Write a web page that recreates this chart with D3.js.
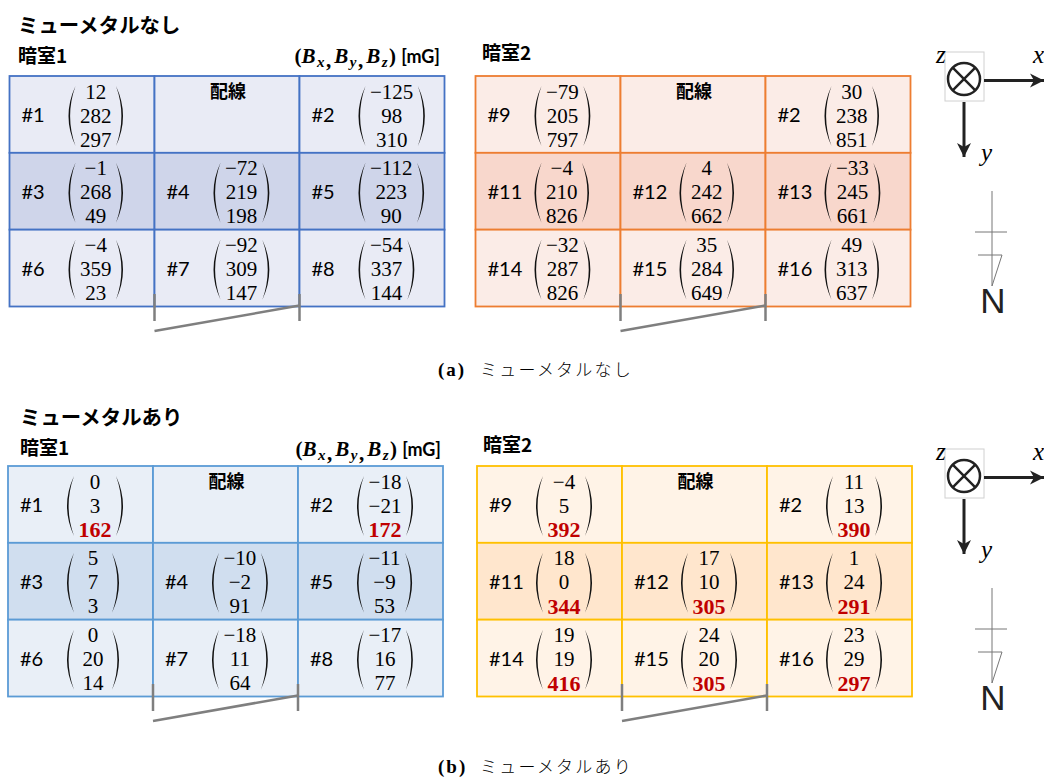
<!DOCTYPE html>
<html>
<head>
<meta charset="utf-8">
<script src="https://cdn.jsdelivr.net/npm/d3@7"></script>
<style>
body { margin: 0; background: #fff; }
svg { display: block; }
text { fill: #000; }
.jp { font-family: "Noto Sans CJK JP"; font-weight: 700; }
.id { font-family: Lato, "Noto Sans"; font-size: 20px; }
.num { font-family: "Liberation Serif"; font-size: 21px; text-anchor: middle; dominant-baseline: central; }
.math { font-family: "Liberation Serif"; font-style: italic; }
</style>
</head>
<body>
<script>
// cell order: left to right, top to bottom, null is the wiring cell
let room1Ids = ['#1', null, '#2', '#3', '#4', '#5', '#6', '#7', '#8']
let room2Ids = ['#9', null, '#2', '#11', '#12', '#13', '#14', '#15', '#16']

let noMetalRoom1 = [[12, 282, 297], null, [-125, 98, 310], [-1, 268, 49], [-72, 219, 198], [-112, 223, 90], [-4, 359, 23], [-92, 309, 147], [-54, 337, 144]]
let noMetalRoom2 = [[-79, 205, 797], null, [30, 238, 851], [-4, 210, 826], [4, 242, 662], [-33, 245, 661], [-32, 287, 826], [35, 284, 649], [49, 313, 637]]
let metalRoom1 = [[0, 3, 162], null, [-18, -21, 172], [5, 7, 3], [-10, -2, 91], [-11, -9, 53], [0, 20, 14], [-18, 11, 64], [-17, 16, 77]]
let metalRoom2 = [[-4, 5, 392], null, [11, 13, 390], [18, 0, 344], [17, 10, 305], [1, 24, 291], [19, 19, 416], [24, 20, 305], [23, 29, 297]]

// cells whose Bz is printed in red
let metalRoom1Red = ['#1', '#2']
let metalRoom2Red = ['#9', '#2', '#11', '#12', '#13', '#14', '#15', '#16']

let svg = d3.select('body').append('svg').attr('width', 1044).attr('height', 778)
let fmt = d3.format('d')

let defs = svg.append('defs')
defs.append('marker').attr('id', 'arrow')
	.attr('viewBox', '0 0 16 16').attr('refX', 15).attr('refY', 8)
	.attr('markerWidth', 16).attr('markerHeight', 16).attr('markerUnits', 'userSpaceOnUse')
	.attr('orient', 'auto')
	.append('path').attr('d', 'M1,1 L15,8 L1,15 L5,8 Z').attr('fill', '#222')

// one bracket of the vector, side is -1 for left and +1 for right
let bracket = function(x, side) {
	let end = x - side * 7
	let ctrl = x + side * 7
	return `M${end},10 Q${ctrl},40 ${end},70 Q${ctrl - side * 3.2},40 ${end},10 Z`
}

let drawTable = function(x0, y0, ids, values, redIds, colors) {
	let g = svg.append('g').attr('transform', `translate(${x0},${y0})`)
	let col = d3.scaleBand().domain([0, 1, 2]).range([0, 435])
	let row = d3.scaleBand().domain([0, 1, 2]).range([0, 230.5])
	let numY = d3.scalePoint().domain([0, 1, 2]).range([15.5, 63.5])

	let cells = g.selectAll('g.cell').data(ids).join('g')
		.attr('class', 'cell')
		.attr('transform', (d, i) => `translate(${col(i % 3)},${row(Math.floor(i / 3))})`)

	cells.append('rect')
		.attr('width', col.bandwidth()).attr('height', row.bandwidth())
		.attr('fill', (d, i) => Math.floor(i / 3) == 1 ? colors.dark : colors.light)
		.attr('stroke', colors.line).attr('stroke-width', 1.8)

	cells.each(function(d, i) {
		let c = d3.select(this)
		if (d === null) {
			c.append('text').attr('class', 'jp').attr('font-size', 18)
				.attr('text-anchor', 'middle')
				.attr('x', col.bandwidth() / 2 + 1).attr('y', 22).text('配線')
			return
		}
		c.append('text').attr('class', 'id').attr('x', 12).attr('y', 46).text(d)

		c.selectAll('text.num').data(values[i]).join('text')
			.attr('class', 'num')
			.attr('y', (v, k) => numY(k))
			.text(v => fmt(v))
			.filter((v, k) => k == 2 && redIds.includes(d))
			.attr('font-weight', 700).style('font-size', '22px').style('fill', '#c00000')

		let maxW = d3.max(c.selectAll('text.num').nodes(), n => n.getComputedTextLength())
		let halfW = Math.max(maxW / 2 + 11.5, 26)
		let cx = 59 + halfW
		c.selectAll('text.num').attr('x', cx)

		c.append('path').attr('d', bracket(cx - halfW, -1)).attr('fill', '#111')
		c.append('path').attr('d', bracket(cx + halfW, 1)).attr('fill', '#111')
	})

	// wiring marks under the table
	let wire = g.append('g').attr('stroke', '#7f7f7f').attr('stroke-width', 2.5).attr('fill', 'none')
	wire.append('line').attr('x1', col(1)).attr('x2', col(1)).attr('y1', 218).attr('y2', 245)
	wire.append('line').attr('x1', col(2)).attr('x2', col(2)).attr('y1', 218).attr('y2', 245)
	wire.append('line').attr('x1', col(1)).attr('x2', col(2)).attr('y1', 255).attr('y2', 229.5)
}

let drawCompass = function(dy) {
	let g = svg.append('g').attr('transform', `translate(0,${dy})`)
	g.append('rect').attr('x', 945).attr('y', 52).attr('width', 39).attr('height', 49)
		.attr('fill', '#fff').attr('stroke', '#d0d0d0')
	g.append('circle').attr('cx', 964).attr('cy', 79).attr('r', 16)
		.attr('fill', 'none').attr('stroke', '#222').attr('stroke-width', 2.5)
	let k = 16 * Math.SQRT1_2
	g.append('path').attr('d', `M${964 - k},${79 - k} L${964 + k},${79 + k} M${964 - k},${79 + k} L${964 + k},${79 - k}`)
		.attr('stroke', '#222').attr('stroke-width', 2.5)
	g.append('line').attr('x1', 984).attr('y1', 80.5).attr('x2', 1044).attr('y2', 80.5)
		.attr('stroke', '#222').attr('stroke-width', 3).attr('marker-end', 'url(#arrow)')
	g.append('line').attr('x1', 964).attr('y1', 102).attr('x2', 964).attr('y2', 157)
		.attr('stroke', '#222').attr('stroke-width', 3).attr('marker-end', 'url(#arrow)')
	let lab = [['z', 936, 63], ['x', 1033, 63], ['y', 981, 161]]
	g.selectAll('text').data(lab).join('text').attr('class', 'math')
		.attr('font-size', 25).attr('x', d => d[1]).attr('y', d => d[2]).text(d => d[0])

	let n = g.append('g').attr('stroke', '#777').attr('fill', 'none').attr('stroke-width', 1)
	n.append('line').attr('x1', 992).attr('x2', 992).attr('y1', 191).attr('y2', 286)
	n.append('line').attr('x1', 975).attr('x2', 1007).attr('y1', 232).attr('y2', 232)
	n.append('path').attr('d', 'M978,255 L1002,255 L992,286')
	g.append('text').attr('x', 993).attr('y', 313).attr('text-anchor', 'middle')
		.attr('font-family', 'Liberation Sans').attr('font-size', 35).style('fill', '#222').text('N')
}

let label = function(x, y, size, txt) {
	svg.append('text').attr('class', 'jp').attr('x', x).attr('y', y).attr('font-size', size).text(txt)
}

let formula = function(x, y) {
	let t = svg.append('text').attr('x', x).attr('y', y).attr('text-anchor', 'end')
		.attr('font-family', 'Liberation Serif').attr('font-size', 21).attr('font-weight', 700)
	t.append('tspan').text('(')
	let subs = ['x', 'y', 'z']
	subs.forEach((s, i) => {
		t.append('tspan').attr('font-style', 'italic').attr('letter-spacing', 1.5).attr('dy', i ? -4 : 0).text('B')
		t.append('tspan').attr('font-style', 'italic').attr('letter-spacing', 1.5).attr('font-size', 15).attr('dy', 4).text(s)
		if (i < 2) t.append('tspan').attr('letter-spacing', 3).text(',')
	})
	t.append('tspan').attr('dy', -4).text(') ')
	t.append('tspan').attr('font-family', 'Lato').attr('font-size', 18).text('[mG]')
}

let caption = function(x, y, tag, txt) {
	svg.append('text').attr('x', x).attr('y', y)
		.attr('font-family', 'Liberation Serif').attr('font-size', 19).attr('font-weight', 700)
		.attr('letter-spacing', 2).text(tag)
	svg.append('text').attr('x', x + 42).attr('y', y)
		.attr('font-family', 'Noto Sans CJK JP').attr('font-weight', 300).attr('font-size', 17)
		.attr('letter-spacing', 2.2).text(txt)
}

let blue = { line: '#4472c4', light: '#e9ebf5', dark: '#cfd5ea' }
let orange = { line: '#ed7d31', light: '#fbece7', dark: '#f8d7cc' }
let skyblue = { line: '#5b9bd5', light: '#e9eff7', dark: '#d0deef' }
let yellow = { line: '#ffc000', light: '#fff3e7', dark: '#ffe6cd' }

drawTable(9.5, 76, room1Ids, noMetalRoom1, [], blue)
drawTable(475.5, 76, room2Ids, noMetalRoom2, [], orange)
drawTable(8, 466, room1Ids, metalRoom1, metalRoom1Red, skyblue)
drawTable(477, 466, room2Ids, metalRoom2, metalRoom2Red, yellow)

label(18, 33, 20.4, 'ミューメタルなし')
label(18, 63, 19, '暗室1')
label(482, 60, 19, '暗室2')
formula(440, 63)
label(20, 425, 20.4, 'ミューメタルあり')
label(20, 455, 19, '暗室1')
label(483, 452, 19, '暗室2')
formula(441, 456)

drawCompass(0)
drawCompass(397)

caption(438, 376, '(a)', 'ミューメタルなし')
caption(438, 773, '(b)', 'ミューメタルあり')
</script>
</body>
</html>
